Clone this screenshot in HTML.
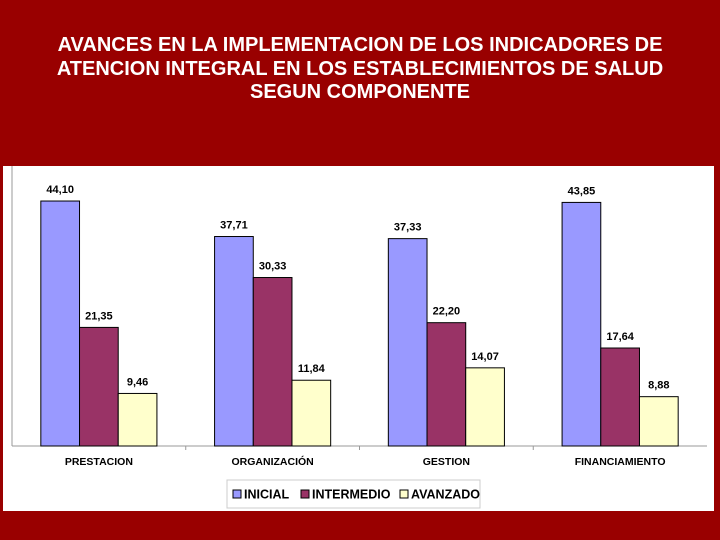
<!DOCTYPE html>
<html><head><meta charset="utf-8"><style>
body{margin:0;width:720px;height:540px;background:#990000;overflow:hidden;font-family:"Liberation Sans",Arial,sans-serif}
#title{position:absolute;left:0;top:34px;width:720px;text-align:center;color:#fff;font-size:20px;font-weight:bold;line-height:23.5px;white-space:nowrap}
</style></head><body>
<div id="title">AVANCES EN LA IMPLEMENTACION DE LOS INDICADORES DE<br>ATENCION INTEGRAL EN LOS ESTABLECIMIENTOS DE SALUD<br>SEGUN COMPONENTE</div>
<svg id="chart" width="720" height="540" style="position:absolute;left:0;top:0"></svg>
<script>
const categories=["PRESTACION","ORGANIZACIÓN","GESTION","FINANCIAMIENTO"];
const inicial=[44.10,37.71,37.33,43.85];
const intermedio=[21.35,30.33,22.20,17.64];
const avanzado=[9.46,11.84,14.07,8.88];
const valueLabels=[["44,10","37,71","37,33","43,85"],["21,35","30,33","22,20","17,64"],["9,46","11,84","14,07","8,88"]];
const seriesNames=["INICIAL","INTERMEDIO","AVANZADO"];
const colors=["#9999ff","#993366","#ffffcc"];
const NS="http://www.w3.org/2000/svg";
const svg=document.getElementById('chart');
function mk(t,a,p){const e=document.createElementNS(NS,t);for(const k in a)e.setAttribute(k,a[k]);(p||svg).appendChild(e);return e;}
const x0=12,x1=707,y0=446,k=5.555;
const bw=(x1-x0)/categories.length;
function yS(v){return y0-v*k;}
function xC(i){return x0+bw*(i+0.5);}
const panel=mk('rect',{x:3,y:166,width:711,height:345,fill:'#fff'});

const ax=mk('line',{x1:x0,y1:166,x2:x0,y2:y0,stroke:'#999'});

const bx=mk('line',{x1:x0,y1:y0,x2:x1,y2:y0,stroke:'#999'});

const series=[inicial,intermedio,avanzado];
const barW=38.7;
categories.forEach((c,i)=>{
  if(i>0){const t=mk('line',{x1:x0+bw*i,y1:y0,x2:x0+bw*i,y2:y0+4,stroke:'#999'});
  }
  series.forEach((s,j)=>{
    const bx=xC(i)-barW*1.5+barW*j;
    const r=mk('rect',{x:bx,y:yS(s[i]),width:barW,height:s[i]*k,fill:colors[j],stroke:'#000','stroke-width':1});
    
    
    const t=mk('text',{x:bx+barW/2,y:yS(s[i])-8,'text-anchor':'middle','font-size':11,'font-weight':'bold',fill:'#000'});
    t.textContent=valueLabels[j][i];
    
    
  });
  const l=mk('text',{x:xC(i),y:465,'text-anchor':'middle','font-size':10.5,'font-weight':'bold',fill:'#000'});
  l.textContent=c;
  
  
});
const lg=mk('g',{});

mk('rect',{x:227,y:480,width:253,height:28,fill:'#fff',stroke:'#ccc'},lg);
const lx=[233,301,400];
seriesNames.forEach((n,j)=>{
  const sw=mk('rect',{x:lx[j],y:490,width:8,height:8,fill:colors[j],stroke:'#000'},lg);
  
  const t=mk('text',{x:lx[j]+11,y:498.5,'font-size':12.5,'font-weight':'bold',fill:'#000'},lg);
  t.textContent=n;
  
  
});
</script>
</body></html>
